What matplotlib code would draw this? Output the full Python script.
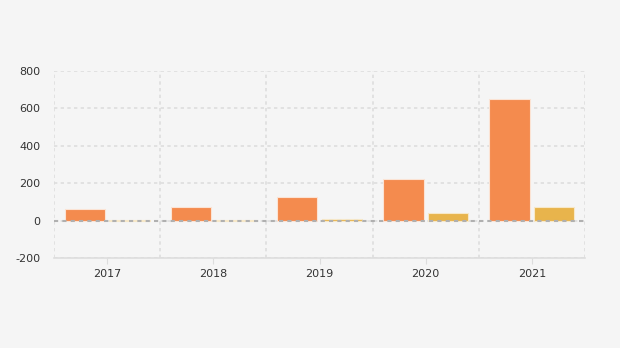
import numpy as np
import matplotlib.pyplot as plt

plt.rcParams['axes.unicode_minus'] = False

years = ['2017', '2018', '2019', '2020', '2021']
series_a = [60, 75, 128, 224, 652]
series_b = [3, 3, 11, 39, 71]
y_ticks = [-200, 0, 200, 400, 600, 800]

fig = plt.figure(figsize=(6.2, 3.48), dpi=100)
fig.patch.set_facecolor('#f5f5f5')
ax = fig.add_axes([54/620, 1-258/348, (585-54)/620, (258-71)/348])
ax.set_facecolor('#f5f5f5')

x = np.arange(len(years))
w = 0.38
ax.bar(x - 0.21, series_a, w, color='#f48b4e', edgecolor='#fbe3d4', linewidth=0.8, zorder=3)
ax.bar(x + 0.21, series_b, w, color='#e8b44c', edgecolor='#f7e8c8', linewidth=0.8, zorder=3)

ax.set_xlim(-0.5, len(years) - 0.5)
ax.set_ylim(-200, 800)
ax.set_yticks(y_ticks)
ax.set_xticks(x)
ax.set_xticklabels(years)
ax.set_xticks(np.arange(len(years) + 1) - 0.5, minor=True)

ax.grid(axis='y', which='major', color='#dddddd', linestyle=(0, (2, 2)), linewidth=1.2, zorder=0)
ax.grid(axis='x', which='minor', color='#dddddd', linestyle=(0, (2, 2)), linewidth=1.2, zorder=0)
ax.axhline(0, color='#b0b0b0', linestyle=(0, (2, 2)), linewidth=1.5, zorder=4)

for s in ['top', 'right', 'left']:
    ax.spines[s].set_visible(False)
ax.spines['bottom'].set_color('#dddddd')
ax.spines['bottom'].set_linewidth(1.2)

ax.tick_params(axis='y', length=0, labelsize=8, colors='#333333', pad=10)
ax.tick_params(axis='x', which='major', length=4, color='#dddddd', labelsize=8, labelcolor='#333333', pad=4)
ax.tick_params(axis='x', which='minor', length=0)

plt.savefig('out.png', dpi=100, facecolor=fig.get_facecolor())
